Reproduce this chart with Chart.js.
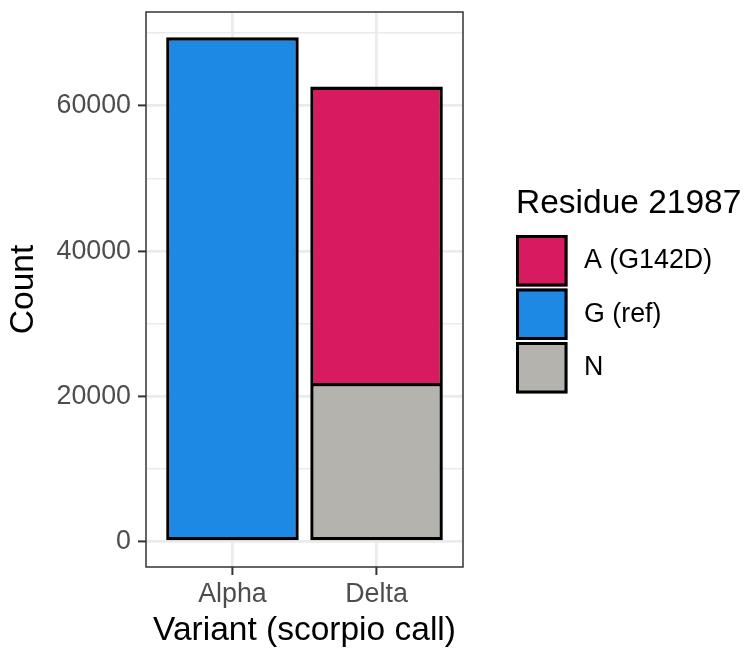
<!DOCTYPE html>
<html><head><meta charset="utf-8">
<script src="https://cdn.jsdelivr.net/npm/chart.js@4/dist/chart.umd.min.js"></script>
<style>html,body{margin:0;padding:0;background:#fff}#wrap{width:756px;height:662px}</style>
</head><body><div id="wrap"><canvas id="c" width="756" height="662"></canvas></div>
<script>
// ---- data ----
const categories = ['Alpha', 'Delta'];
const seriesLabels = ['A (G142D)', 'G (ref)', 'N'];
const countA = [null, 40800];
const countG = [69440, null];
const countN = [null, 21850];
const yMajorTicks = [0, 20000, 40000, 60000];
const yMinorTicks = [10000, 30000, 50000, 70000];
const seriesColors = ['#D81B60', '#1E88E5', '#B4B3AE'];
const legendTitle = 'Residue 21987';
const xTitle = 'Variant (scorpio call)';
const yTitle = 'Count';

const FONT = "'Liberation Sans', Arial, Helvetica, sans-serif";
Chart.defaults.font.family = FONT;

const toPoints = arr => arr.map((v, i) => ({ x: i + 1, y: v }));

const datasets = [
  { label: seriesLabels[2], data: toPoints(countN), backgroundColor: seriesColors[2], borderSkipped: false },
  { label: seriesLabels[1], data: toPoints(countG), backgroundColor: seriesColors[1], borderSkipped: false },
  { label: seriesLabels[0], data: toPoints(countA), backgroundColor: seriesColors[0], borderSkipped: 'bottom' }
].map(d => Object.assign(d, { borderColor: '#000000', borderWidth: 3.4, categoryPercentage: 1, barPercentage: 0.92 }));

const panelBorder = {
  id: 'panelBorder',
  afterDatasetsDraw(chart) {
    const a = chart.chartArea, ctx = chart.ctx;
    ctx.save();
    ctx.strokeStyle = '#333333';
    ctx.lineWidth = 1.5;
    ctx.strokeRect(a.left, a.top, a.right - a.left, a.bottom - a.top);
    ctx.restore();
  }
};

const ggLegend = {
  id: 'ggLegend',
  afterDraw(chart) {
    const a = chart.chartArea, ctx = chart.ctx;
    const items = chart.data.datasets.slice().reverse();
    const left = a.right + 53;
    const keySize = 51.5, pitch = 53.5;
    const cy = (a.top + a.bottom) / 2;
    const firstTop = cy - 54.5;
    ctx.save();
    ctx.fillStyle = '#000';
    ctx.font = '33.5px ' + FONT;
    ctx.textAlign = 'left';
    ctx.textBaseline = 'alphabetic';
    ctx.fillText(legendTitle, left, firstTop - 22);
    items.forEach((ds, i) => {
      const top = firstTop + i * pitch;
      ctx.fillStyle = ds.backgroundColor;
      ctx.fillRect(left, top, keySize, keySize);
      ctx.strokeStyle = '#000';
      ctx.lineWidth = 3;
      ctx.strokeRect(left + 1.5, top + 1.5, keySize - 3, keySize - 3);
      ctx.fillStyle = '#000';
      ctx.font = '26.8px ' + FONT;
      ctx.textBaseline = 'middle';
      ctx.fillText(ds.label, left + 68, top + keySize / 2);
    });
    ctx.restore();
  }
};

new Chart(document.getElementById('c'), {
  type: 'bar',
  data: { datasets },
  options: {
    responsive: false,
    animation: false,
    devicePixelRatio: 1,
    layout: { padding: { left: 0, top: 12, right: 293, bottom: 0 } },
    plugins: { legend: { display: false }, tooltip: { enabled: false } },
    scales: {
      x: {
        type: 'linear',
        min: 0.4, max: 2.6,
        offset: false,
        stacked: true,
        afterBuildTicks: s => { s.ticks = categories.map((c, i) => ({ value: i + 1 })); },
        afterFit: s => { s.height = 95; s.paddingLeft = 0; s.paddingRight = 0; },
        border: { display: false },
        grid: { offset: false, color: '#EBEBEB', lineWidth: 2.8, drawTicks: true, tickLength: 8, tickColor: '#333333', tickWidth: 2 },
        ticks: {
          autoSkip: false, maxRotation: 0, padding: 4,
          color: '#4D4D4D', font: { size: 26.8 },
          callback: v => categories[Math.round(v) - 1]
        },
        title: { display: true, text: xTitle, color: '#000', font: { size: 33.5 }, padding: { top: 0, bottom: 11.5 } }
      },
      y: {
        type: 'linear',
        min: -3472, max: 72912,
        stacked: true,
        afterBuildTicks: s => { s.ticks = yMajorTicks.concat(yMinorTicks).sort((p, q) => p - q).map(v => ({ value: v })); },
        afterFit: s => { s.width = 146; s.paddingTop = 0; s.paddingBottom = 0; },
        border: { display: false },
        grid: {
          color: '#EBEBEB',
          lineWidth: c => (yMajorTicks.includes(c.tick.value) ? 2.8 : 1.4),
          drawTicks: true, tickLength: 8,
          tickColor: c => (yMajorTicks.includes(c.tick.value) ? '#333333' : 'rgba(0,0,0,0)'),
          tickWidth: 2
        },
        ticks: {
          autoSkip: false, padding: 7,
          color: '#4D4D4D', font: { size: 26.8 },
          callback: v => (yMajorTicks.includes(v) ? String(v) : '')
        },
        title: { display: true, text: yTitle, color: '#000', font: { size: 33.5 }, padding: { top: 3.3, bottom: 0 } }
      }
    }
  },
  plugins: [panelBorder, ggLegend]
});
</script></body></html>
